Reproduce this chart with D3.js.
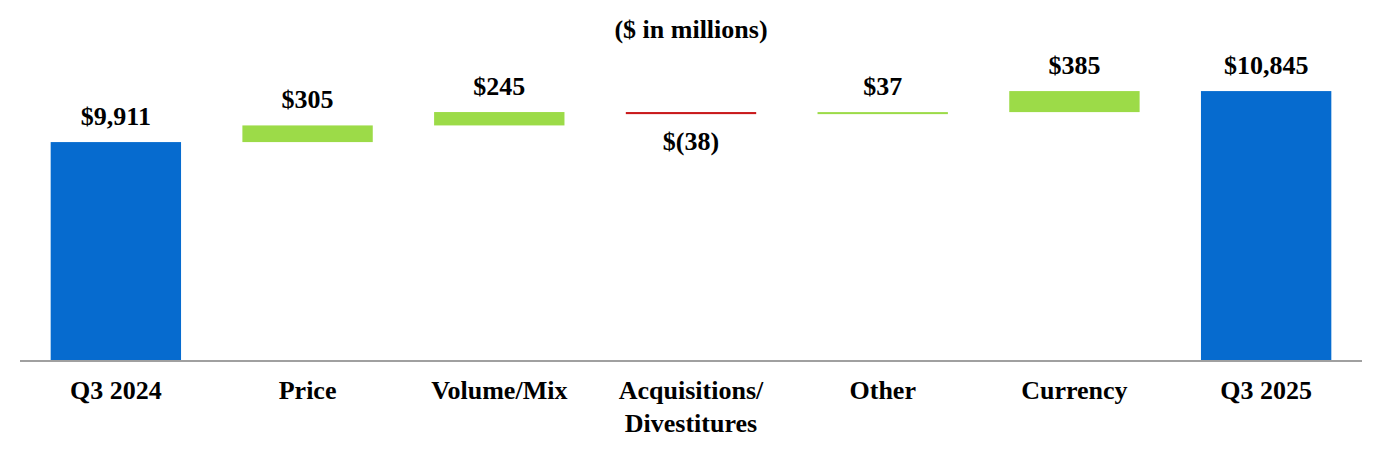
<!DOCTYPE html>
<html>
<head>
<meta charset="utf-8">
<script src="https://cdn.jsdelivr.net/npm/d3@7"></script>
<style>
  html, body { margin: 0; padding: 0; background: #fff; }
  svg text { font-family: "Liberation Serif", "Times New Roman", serif; font-weight: bold; fill: #000; }
</style>
</head>
<body>
<svg id="chart" width="1382" height="460"></svg>
<script>
// ---- Data ----
const categories = ["Q3 2024", "Price", "Volume/Mix", "Acquisitions/\nDivestitures", "Other", "Currency", "Q3 2025"];
const values = [9911, 305, 245, -38, 37, 385, 10845];
const kinds = ["total", "delta", "delta", "delta", "delta", "delta", "total"];
const valueLabels = ["$9,911", "$305", "$245", "$(38)", "$37", "$385", "$10,845"];
const title = "($ in millions)";

// ---- Layout ----
const W = 1382, H = 460;
const baseY = 360;
const svg = d3.select("#chart");

const x = d3.scaleBand()
  .domain(categories)
  .range([20, 1362])
  .paddingInner(0.32)
  .paddingOuter(0.16);

const y = d3.scaleLinear()
  .domain([5920, 12513])
  .range([baseY, 0]);

// compute waterfall segments
let running = 0;
const segs = categories.map((c, i) => {
  let start, end;
  if (kinds[i] === "total") { start = y.domain()[0]; end = values[i]; running = values[i]; }
  else { start = running; end = running + values[i]; running = end; }
  return { cat: c, v: values[i], kind: kinds[i], lo: Math.min(start, end), hi: Math.max(start, end), label: valueLabels[i] };
});

const color = d => d.kind === "total" ? "#066bcf" : (d.v < 0 ? "#c9191b" : "#9cdb48");

svg.append("g").selectAll("rect")
  .data(segs)
  .join("rect")
  .attr("x", d => x(d.cat))
  .attr("width", x.bandwidth())
  .attr("y", d => y(d.hi))
  .attr("height", d => Math.max(1.5, y(d.lo) - y(d.hi)))
  .attr("fill", color);

// axis baseline
svg.append("line")
  .attr("x1", x.range()[0]).attr("x2", x.range()[1])
  .attr("y1", baseY + 1).attr("y2", baseY + 1)
  .attr("stroke", "#a0a0a0").attr("stroke-width", 2);

// value labels
svg.append("g").selectAll("text")
  .data(segs)
  .join("text")
  .attr("x", d => x(d.cat) + x.bandwidth() / 2)
  .attr("y", d => d.v < 0 ? y(d.lo) + 36 : y(d.hi) - 17)
  .attr("text-anchor", "middle")
  .attr("font-size", 26)
  .text(d => d.label);

// category labels
const catG = svg.append("g");
categories.forEach(c => {
  const lines = c.split("\n");
  const t = catG.append("text")
    .attr("x", x(c) + x.bandwidth() / 2)
    .attr("y", 399)
    .attr("text-anchor", "middle")
    .attr("font-size", 26);
  lines.forEach((ln, j) => {
    t.append("tspan")
      .attr("x", x(c) + x.bandwidth() / 2)
      .attr("dy", j === 0 ? 0 : 33)
      .text(ln);
  });
});

// title
svg.append("text")
  .attr("x", (x.range()[0] + x.range()[1]) / 2)
  .attr("y", 38)
  .attr("text-anchor", "middle")
  .attr("font-size", 26)
  .text(title);
</script>
</body>
</html>
